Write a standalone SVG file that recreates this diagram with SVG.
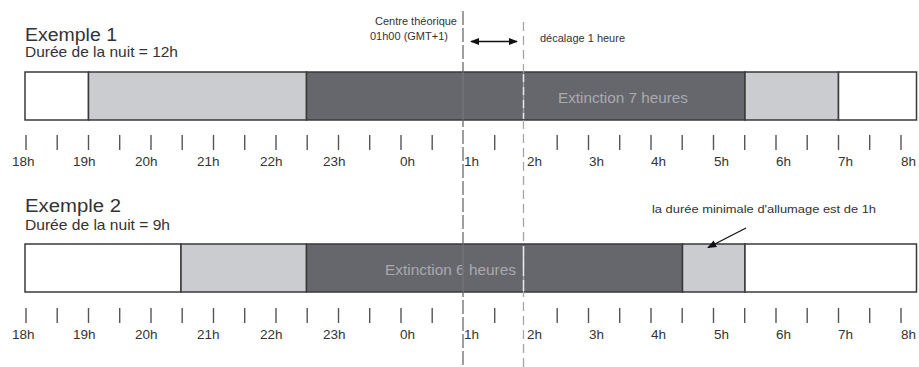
<svg xmlns="http://www.w3.org/2000/svg" width="919" height="367" viewBox="0 0 919 367">
<defs>
<marker id="ah" viewBox="0 0 10 10" refX="9" refY="5" markerWidth="7" markerHeight="7" orient="auto-start-reverse"><path d="M0,1 L10,5 L0,9 Z" fill="#111"/></marker>
</defs>
<style>
text{font-family:"Liberation Sans",Arial,sans-serif;fill:#333}
.t{font-size:17.5px}
.s{font-size:14.5px}
.h{font-size:13.5px}
.n{font-size:11px}
.w{fill:#fff}.l{fill:#cbccd0}.d{fill:#66676c}
.seg{stroke:#3a3a3a;stroke-width:1.5}
.tick{stroke:#555;stroke-width:1.4}
.in{font-size:14px;fill:#a9aaae}
</style>
<rect width="919" height="367" fill="#fff"/>
<g id="example1">
<text class="t" x="25" y="41" textLength="92" lengthAdjust="spacingAndGlyphs">Exemple 1</text>
<text class="s" x="25" y="57" textLength="153" lengthAdjust="spacingAndGlyphs">Durée de la nuit = 12h</text>
<g id="bar1">
<rect class="w seg" x="25" y="72" width="63.5" height="48"/>
<rect class="l seg" x="88.5" y="72" width="218" height="48"/>
<rect class="d seg" x="306.5" y="72" width="438.5" height="48"/>
<rect class="l seg" x="745" y="72" width="93.5" height="48"/>
<rect class="w seg" x="838.5" y="72" width="78" height="48"/>
<text class="in" x="558" y="103" textLength="130" lengthAdjust="spacingAndGlyphs">Extinction 7 heures</text>
</g>
</g>
<g id="example2">
<text class="t" x="25" y="212" textLength="96" lengthAdjust="spacingAndGlyphs">Exemple 2</text>
<text class="s" x="25" y="229.5" textLength="145" lengthAdjust="spacingAndGlyphs">Durée de la nuit = 9h</text>
<g id="bar2">
<rect class="w seg" x="25" y="244" width="156" height="48"/>
<rect class="l seg" x="181" y="244" width="125.5" height="48"/>
<rect class="d seg" x="306.5" y="244" width="376" height="48"/>
<rect class="l seg" x="682.5" y="244" width="62.5" height="48"/>
<rect class="w seg" x="745" y="244" width="171.5" height="48"/>
<text class="in" x="385" y="275" textLength="131" lengthAdjust="spacingAndGlyphs">Extinction 6 heures</text>
</g>
<text id="note" class="n" x="652" y="213" textLength="224" lengthAdjust="spacingAndGlyphs">la durée minimale d'allumage est de 1h</text>
</g>
<g id="axis1">
<g class="tick">
<line x1="26" y1="135" x2="26" y2="150"/><line x1="57.2" y1="135" x2="57.2" y2="150"/>
<line x1="88.5" y1="135" x2="88.5" y2="150"/><line x1="119.7" y1="135" x2="119.7" y2="150"/>
<line x1="151" y1="135" x2="151" y2="150"/><line x1="182.2" y1="135" x2="182.2" y2="150"/>
<line x1="213.5" y1="135" x2="213.5" y2="150"/><line x1="244.7" y1="135" x2="244.7" y2="150"/>
<line x1="276" y1="135" x2="276" y2="150"/><line x1="307.2" y1="135" x2="307.2" y2="150"/>
<line x1="338.5" y1="135" x2="338.5" y2="150"/><line x1="369.7" y1="135" x2="369.7" y2="150"/>
<line x1="401" y1="135" x2="401" y2="150"/><line x1="432.2" y1="135" x2="432.2" y2="150"/>
<line x1="494.7" y1="135" x2="494.7" y2="150"/>
<line x1="557.2" y1="135" x2="557.2" y2="150"/>
<line x1="588.5" y1="135" x2="588.5" y2="150"/><line x1="619.7" y1="135" x2="619.7" y2="150"/>
<line x1="651" y1="135" x2="651" y2="150"/><line x1="682.2" y1="135" x2="682.2" y2="150"/>
<line x1="713.5" y1="135" x2="713.5" y2="150"/><line x1="744.7" y1="135" x2="744.7" y2="150"/>
<line x1="776" y1="135" x2="776" y2="150"/><line x1="807.2" y1="135" x2="807.2" y2="150"/>
<line x1="838.5" y1="135" x2="838.5" y2="150"/><line x1="869.7" y1="135" x2="869.7" y2="150"/>
<line x1="901" y1="135" x2="901" y2="150"/>
</g>
<g class="h">
<text x="12" y="166">18h</text><text x="73" y="166">19h</text><text x="135" y="166">20h</text>
<text x="197" y="166">21h</text><text x="260" y="166">22h</text><text x="323" y="166">23h</text>
<text x="400" y="166">0h</text><text x="464" y="166">1h</text><text x="527" y="166">2h</text>
<text x="589" y="166">3h</text><text x="651" y="166">4h</text><text x="714" y="166">5h</text>
<text x="776" y="166">6h</text><text x="838" y="166">7h</text><text x="901" y="166">8h</text>
</g>
</g>
<g id="axis2">
<g class="tick">
<line x1="26" y1="308" x2="26" y2="323"/><line x1="57.2" y1="308" x2="57.2" y2="323"/>
<line x1="88.5" y1="308" x2="88.5" y2="323"/><line x1="119.7" y1="308" x2="119.7" y2="323"/>
<line x1="151" y1="308" x2="151" y2="323"/><line x1="182.2" y1="308" x2="182.2" y2="323"/>
<line x1="213.5" y1="308" x2="213.5" y2="323"/><line x1="244.7" y1="308" x2="244.7" y2="323"/>
<line x1="276" y1="308" x2="276" y2="323"/><line x1="307.2" y1="308" x2="307.2" y2="323"/>
<line x1="338.5" y1="308" x2="338.5" y2="323"/><line x1="369.7" y1="308" x2="369.7" y2="323"/>
<line x1="401" y1="308" x2="401" y2="323"/><line x1="432.2" y1="308" x2="432.2" y2="323"/>
<line x1="494.7" y1="308" x2="494.7" y2="323"/>
<line x1="557.2" y1="308" x2="557.2" y2="323"/>
<line x1="588.5" y1="308" x2="588.5" y2="323"/><line x1="619.7" y1="308" x2="619.7" y2="323"/>
<line x1="651" y1="308" x2="651" y2="323"/><line x1="682.2" y1="308" x2="682.2" y2="323"/>
<line x1="713.5" y1="308" x2="713.5" y2="323"/><line x1="744.7" y1="308" x2="744.7" y2="323"/>
<line x1="776" y1="308" x2="776" y2="323"/><line x1="807.2" y1="308" x2="807.2" y2="323"/>
<line x1="838.5" y1="308" x2="838.5" y2="323"/><line x1="869.7" y1="308" x2="869.7" y2="323"/>
<line x1="901" y1="308" x2="901" y2="323"/>
</g>
<g class="h">
<text x="12" y="339">18h</text><text x="73" y="339">19h</text><text x="135" y="339">20h</text>
<text x="197" y="339">21h</text><text x="260" y="339">22h</text><text x="323" y="339">23h</text>
<text x="400" y="339">0h</text><text x="464" y="339">1h</text><text x="527" y="339">2h</text>
<text x="589" y="339">3h</text><text x="651" y="339">4h</text><text x="714" y="339">5h</text>
<text x="776" y="339">6h</text><text x="838" y="339">7h</text><text x="901" y="339">8h</text>
</g>
</g>
<g id="centre">
<text class="n" x="457" y="25" text-anchor="end" font-size="10px">Centre théorique</text>
<text class="n" x="370" y="40" font-size="10px">01h00 (GMT+1)</text>
<text class="n" x="540" y="42" font-size="11.5px">décalage 1 heure</text>
</g>
<g id="connectors">
<line x1="463" y1="11" x2="463" y2="367" stroke="#6a6a6a" stroke-width="1.3" stroke-dasharray="14 3"/>
<line x1="523.5" y1="22" x2="523.5" y2="367" stroke="#a5a5a5" stroke-width="1.3" stroke-dasharray="9 5"/>
<line x1="463" y1="73" x2="463" y2="119" stroke="#74757a" stroke-width="1.3"/>
<line x1="463" y1="245" x2="463" y2="291" stroke="#74757a" stroke-width="1.3"/>
<line x1="523.5" y1="74" x2="523.5" y2="119" stroke="#e8e8ea" stroke-width="1.5" stroke-dasharray="8 5"/>
<line x1="523.5" y1="246" x2="523.5" y2="291" stroke="#e8e8ea" stroke-width="1.5" stroke-dasharray="30 4"/>
<line x1="471" y1="41.5" x2="517" y2="41.5" stroke="#111" stroke-width="1.3" marker-start="url(#ah)" marker-end="url(#ah)"/>
<line x1="746" y1="228" x2="708" y2="247.5" stroke="#111" stroke-width="1.3" marker-end="url(#ah)"/>
</g>
</svg>
